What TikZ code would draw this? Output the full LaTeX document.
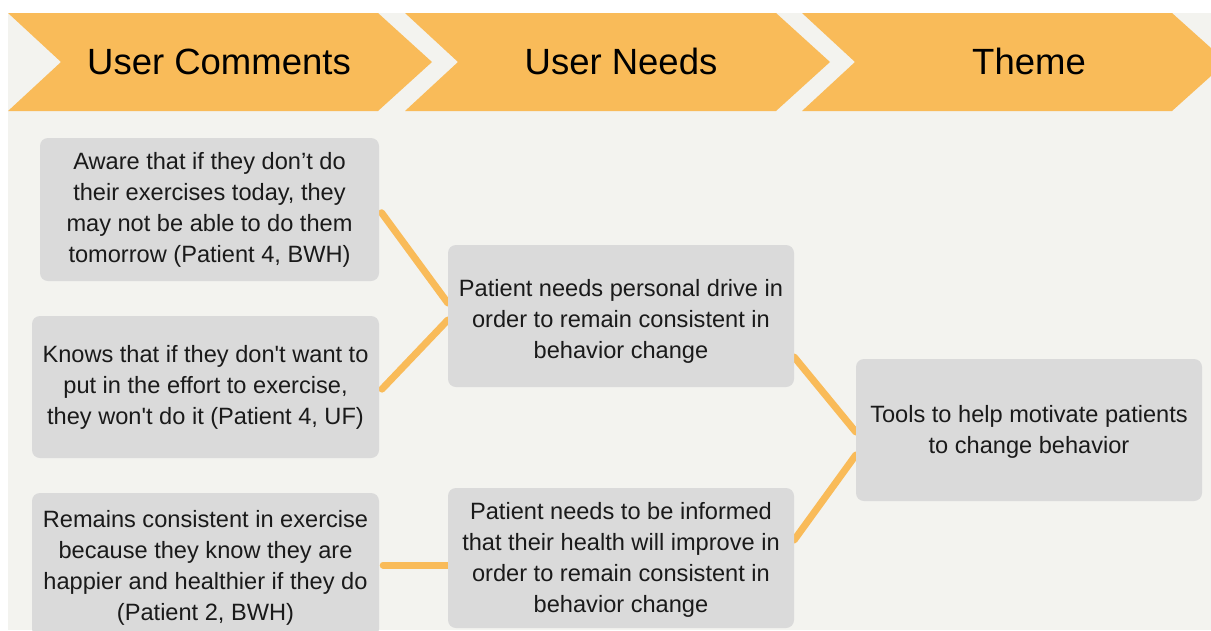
\documentclass[tikz,border=0pt]{standalone}
\usepackage{fontspec}
\setmainfont{Liberation Sans}
\usetikzlibrary{backgrounds}
\definecolor{hdorange}{HTML}{F9BB59}
\definecolor{boxgray}{HTML}{DADADA}
\definecolor{pagegray}{HTML}{F3F3EF}
\definecolor{txt}{HTML}{1A1A1A}

\begin{document}
\begin{tikzpicture}[
x=1pt,y=-1pt,
font=\fontsize{23.6}{31}\selectfont,
text=txt
]

\tikzstyle{bx} = [fill=boxgray, rounded corners=8pt, align=center, inner sep=0pt, minimum width=346pt, minimum height=142pt]
\tikzstyle{hd} = [anchor=base, font=\fontsize{36.5}{40}\selectfont, text=black]
\tikzstyle{ln} = [draw=hdorange, line width=7pt, line cap=round]

\useasboundingbox (0,0) rectangle (1211,630);

% headers
\node[hd] (hcom) at (219,74) {User Comments};
\node[hd] (hneed) at (621,74) {User Needs};
\node[hd] (htheme) at (1029,74) {Theme};

% user comments
\node[bx, minimum width=339pt, minimum height=143pt] (c1) at (209.5,209.5)
	{Aware that if they don’t do\\their exercises today, they\\may not be able to do them\\tomorrow (Patient 4, BWH)};
\node[bx, minimum width=347pt] (c2) at (205.5,387)
	{Knows that if they don\textquotesingle t want to\\put in the effort to exercise,\\they won\textquotesingle t do it (Patient 4, UF)};
\node[bx, minimum width=347pt, minimum height=144pt] (c3) at (205.5,565)
	{\rule{0pt}{23pt}Remains consistent in exercise\\because they know they are\\happier and healthier if they do\\(Patient 2, BWH)};

% user needs
\node[bx] (n1) at (621,316)
	{\rule{0pt}{27pt}Patient needs personal drive in\\order to remain consistent in\\behavior change};
\node[bx, minimum height=140pt] (n2) at (621,558)
	{\rule{0pt}{20pt}Patient needs to be informed\\that their health will improve in\\order to remain consistent in\\behavior change};

% theme
\node[bx] (t) at (1029,430)
	{\rule{0pt}{21pt}Tools to help motivate patients\\to change behavior};

\begin{scope}[on background layer]
\fill[white] (0,0) rectangle (1211,630);
\fill[pagegray] (8,13) rectangle (1211,630);
\fill[hdorange] (8,13) -- (378,13) -- (432,62) -- (378,111) -- (8,111) -- (61,62) -- cycle;
\fill[hdorange] (405,13) -- (776,13) -- (830,62) -- (776,111) -- (405,111) -- (458,62) -- cycle;
\fill[hdorange] (802,13) -- (1172,13) -- (1211,48) -- (1211,76) -- (1172,111) -- (802,111) -- (855,62) -- cycle;

\draw[ln, shorten <=4pt] (c1.east) -- ([yshift=13pt]n1.west);
\draw[ln, shorten <=4pt] ([yshift=-5pt]c2.east) -- ([yshift=-4pt]n1.west);
\draw[ln, shorten <=4pt] (c3.east) -- (c3.east -| n2.west);
\draw[ln] ([yshift=-41pt]n1.east) -- ([yshift=-2pt]t.west);
\draw[ln] ([yshift=18pt]n2.east) -- ([yshift=-25pt]t.west);
\end{scope}

\end{tikzpicture}
\end{document}
